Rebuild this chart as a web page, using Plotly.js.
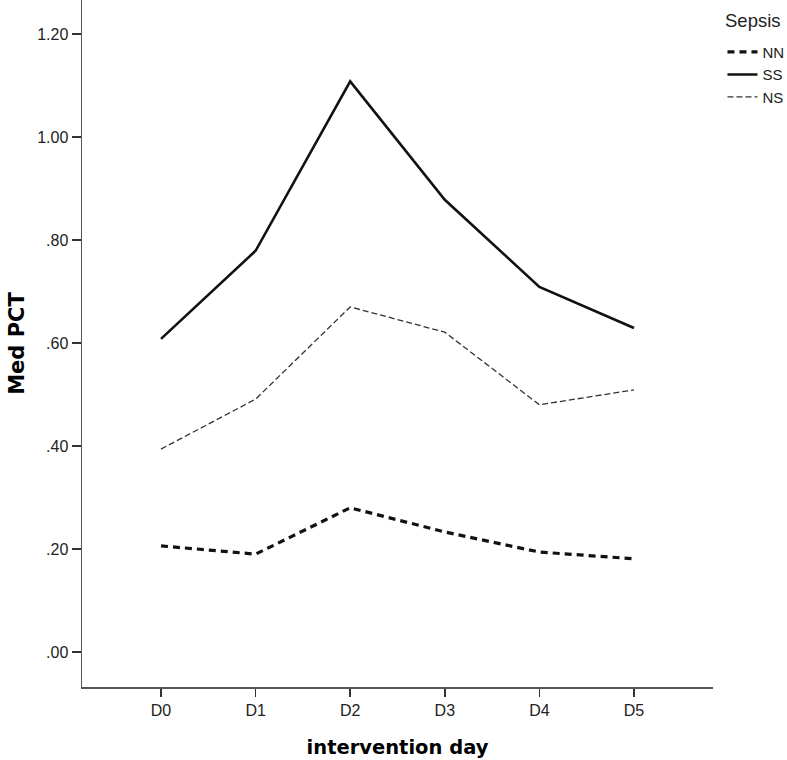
<!DOCTYPE html>
<html>
<head>
<meta charset="utf-8">
<script src="https://cdn.plot.ly/plotly-3.0.1.min.js"></script>
<style>
  body { margin: 0; background: #fff; }
  #plot { width: 787px; height: 760px; }
</style>
</head>
<body>
<div id="plot"></div>
<script>
let days = ["D0", "D1", "D2", "D3", "D4", "D5"];
let nn_values = [0.206, 0.19, 0.28, 0.233, 0.194, 0.181];
let ss_values = [0.608, 0.779, 1.108, 0.878, 0.709, 0.629];
let ns_values = [0.394, 0.491, 0.67, 0.621, 0.48, 0.509];
let y_tickvals = [0, 0.2, 0.4, 0.6, 0.8, 1.0, 1.2];
let y_ticktext = [".00", ".20", ".40", ".60", ".80", "1.00", "1.20"];
let legend_title = "Sepsis";

let tick_font = { family: "Liberation Sans, Arial, sans-serif", size: 16, color: "#222" };

let data = [
  {
    x: days,
    y: nn_values,
    name: "NN",
    type: "scatter",
    mode: "lines",
    line: { color: "#111", width: 3.2, dash: "7px,5px" },
  },
  {
    x: days,
    y: ss_values,
    name: "SS",
    type: "scatter",
    mode: "lines",
    line: { color: "#111", width: 2.6 },
  },
  {
    x: days,
    y: ns_values,
    name: "NS",
    type: "scatter",
    mode: "lines",
    line: { color: "#333", width: 1.3, dash: "6px,3px" },
  },
];

var layout = {
  width: 787,
  height: 760,
  margin: { l: 82, r: 74, t: 0, b: 73 },
  paper_bgcolor: "#fff",
  plot_bgcolor: "#fff",
  showlegend: true,
  legend: {
    xref: "container",
    yref: "container",
    x: 0.918,
    xanchor: "left",
    y: 0.953,
    yanchor: "top",
    itemwidth: 30,
    tracegroupgap: 0,
    font: { family: "Liberation Sans, Arial, sans-serif", size: 15, color: "#222" },
  },
  annotations: [
    {
      xref: "paper",
      yref: "paper",
      x: 1.0,
      xshift: 11,
      xanchor: "left",
      y: 1.0,
      yshift: -20,
      yanchor: "middle",
      showarrow: false,
      borderpad: 0,
      text: legend_title,
      font: { family: "Liberation Sans, Arial, sans-serif", size: 18.5, color: "#222" },
    },
  ],
  xaxis: {
    type: "category",
    range: [-0.835, 5.835],
    showgrid: false,
    zeroline: false,
    showline: true,
    linecolor: "#555",
    linewidth: 1.5,
    ticks: "outside",
    ticklen: 8,
    tickwidth: 1.5,
    tickcolor: "#333",
    tickfont: tick_font,
    title: {
      text: "intervention day",
      standoff: 22,
      font: { family: "DejaVu Sans, Verdana, sans-serif", size: 19.5, weight: "bold", color: "#000" },
    },
  },
  yaxis: {
    range: [-0.068, 1.266],
    showgrid: false,
    zeroline: false,
    showline: true,
    linecolor: "#555",
    linewidth: 1.5,
    ticks: "outside",
    ticklen: 9,
    tickwidth: 1.5,
    tickcolor: "#333",
    tickvals: y_tickvals,
    ticktext: y_ticktext,
    tickfont: tick_font,
    title: {
      text: "Med PCT",
      standoff: 7,
      font: { family: "DejaVu Sans, Verdana, sans-serif", size: 21, weight: "bold", color: "#000" },
    },
  },
};

Plotly.newPlot("plot", data, layout, { displayModeBar: false, staticPlot: true });
</script>
</body>
</html>
